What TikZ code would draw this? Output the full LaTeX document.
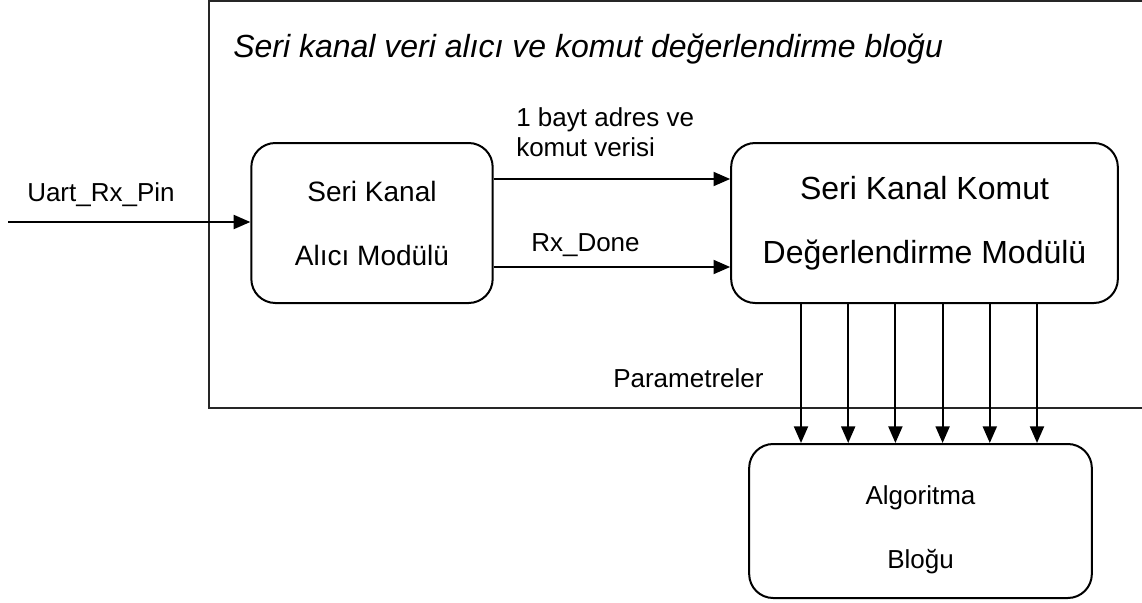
\documentclass[tikz,border=0pt]{standalone}
\usepackage{fontspec}
\setmainfont{Liberation Sans}
\usetikzlibrary{arrows.meta}
\tikzset{
  modbox/.style={draw, line width=1.5pt, rounded corners=18pt, align=center, inner sep=0pt, font=\fontsize{24}{48}\selectfont},
  sigarrow/.style={-{Triangle[length=12.5pt,width=10.5pt]}, line width=1.5pt},
  siglabel/.style={font=\fontsize{19.5}{22.5}\selectfont, inner sep=0pt, anchor=base west, align=left},
  framebox/.style={draw=black!85, line width=1.2pt}
}

\begin{document}
\begin{tikzpicture}[x=0.75pt, y=-0.75pt]
  \useasboundingbox (0,0) rectangle (1142,603);
  \clip (0,0) rectangle (1142,603);
  % outer block
  \draw[framebox] (209,1) rectangle (1160,408);
  \node[anchor=base west, inner sep=0pt, font=\fontsize{24}{28}\selectfont\itshape] (title) at (233,57)
    {Seri kanal veri alıcı ve komut değerlendirme bloğu};
  % modules
  \node[modbox, font=\fontsize{21}{48}\selectfont, minimum width=181pt, minimum height=120pt] (rxmod) at (372,223) {Seri Kanal\\Alıcı Modülü};
  \node[modbox, minimum width=290pt, minimum height=120pt] (cmdmod) at (924.5,223) {Seri Kanal Komut\\Değerlendirme Modülü};
  \node[modbox, font=\fontsize{19.5}{48}\selectfont, minimum width=257pt, minimum height=115.5pt] (algo) at (920.5,521)
    {\rule{0pt}{27pt}Algoritma\\Bloğu};
  % signals
  \coordinate (uartin) at (8,222);
  \draw[sigarrow] (uartin) -- (rxmod.west |- uartin);
  \node[siglabel] (uartlbl) at (27,201) {Uart\_Rx\_Pin};
  \draw[sigarrow] ([yshift=33pt]rxmod.east) -- ([yshift=33pt]cmdmod.west);
  \node[siglabel] (datalbl) at (516,156) {1 bayt adres ve\\komut verisi};
  \draw[sigarrow] ([yshift=-33pt]rxmod.east) -- ([yshift=-33pt]cmdmod.west);
  \node[siglabel] (donelbl) at (531,251) {Rx\_Done};
  % parameters
  \foreach \i in {0,...,5} {
    \coordinate (par\i) at ({801+47.2*\i},0);
    \draw[sigarrow] (cmdmod.south -| par\i) -- (algo.north -| par\i);
  }
  \node[siglabel] (parlbl) at (613,387) {Parametreler};
\end{tikzpicture}
\end{document}
